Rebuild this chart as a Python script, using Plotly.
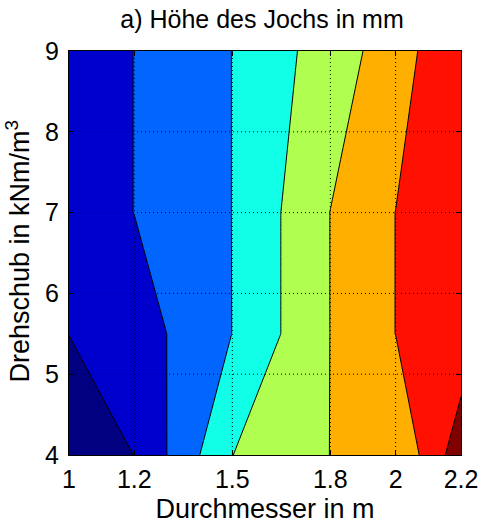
import plotly.graph_objects as go

# Data grid (Durchmesser in m, Drehschub in kNm/m^3)
durchmesser = [1.0, 1.2, 1.5, 1.8, 2.0, 2.2]
drehschub = [4.0, 5.5, 7.0, 9.0]

# Yoke height (in contour-level units), rows follow drehschub, columns follow durchmesser
hoehe_4_0 = [0.343, 1.01, 3.99, 5.01, 5.10, 7.60]
hoehe_5_5 = [1.01, 1.50, 3.01, 5.01, 6.01, 6.35]
hoehe_7_0 = [1.50, 2.01, 3.01, 5.01, 6.01, 6.50]
hoehe_9_0 = [1.50, 2.01, 3.01, 4.50, 5.50, 6.98]

levels_start, levels_end, levels_step = 1, 7, 1

band_colors = ["#000080", "#0000CD", "#0066FF", "#10FFE6",
               "#B0FF50", "#FFAF00", "#FF1000", "#800000"]

x_ticks = [1, 1.2, 1.5, 1.8, 2, 2.2]
x_ticktext = ["1", "1.2", "1.5", "1.8", "2", "2.2"]
y_ticks = [4, 5, 6, 7, 8, 9]

z = [hoehe_4_0, hoehe_5_5, hoehe_7_0, hoehe_9_0]
n = len(band_colors)
colorscale = [[i / (n - 1), c] for i, c in enumerate(band_colors)]

fig = go.Figure(go.Contour(
    x=durchmesser, y=drehschub, z=z,
    autocontour=False,
    contours=dict(start=levels_start, end=levels_end, size=levels_step,
                  coloring="fill", showlines=True),
    line=dict(color="black", width=1, smoothing=0),
    colorscale=colorscale, showscale=False, hoverinfo="skip",
))

shapes = []
for xv in x_ticks[1:-1]:
    shapes.append(dict(type="line", xref="x", yref="paper", x0=xv, x1=xv, y0=0, y1=1,
                       line=dict(color="black", width=1, dash="1px,3px"), layer="above"))
for yv in y_ticks[1:-1]:
    shapes.append(dict(type="line", xref="paper", yref="y", x0=0, x1=1, y0=yv, y1=yv,
                       line=dict(color="black", width=1, dash="1px,3px"), layer="above"))

font_family = "Liberation Sans, Arial, sans-serif"

W, H = 482, 531
L, R, T, B = 69, 21, 51, 76
plot_w = W - L - R

fig.update_layout(
    width=W, height=H,
    margin=dict(l=L, r=R, t=T, b=B, autoexpand=False),
    paper_bgcolor="white", plot_bgcolor="white",
    font=dict(family=font_family, color="black"),
    title=dict(text="a) Höhe des Jochs in mm", x=262 / W, xanchor="center",
               yref="container", y=1 - 10 / H, yanchor="top", pad=dict(t=0, b=0),
               font=dict(size=25), automargin=False),
    shapes=shapes,
    annotations=[dict(text="Drehschub in kNm/m<sup>3</sup>", textangle=-90,
                      xref="paper", yref="paper", x=(17.5 - L) / plot_w, y=0.505,
                      xanchor="center", yanchor="middle", showarrow=False,
                      font=dict(size=27))],
    xaxis=dict(range=[1, 2.2], tickvals=x_ticks, ticktext=x_ticktext,
               ticks="inside", ticklen=5, tickcolor="black",
               showline=True, linecolor="black", linewidth=1, mirror="ticks",
               showgrid=False, zeroline=False, layer="above traces", automargin=False,
               tickfont=dict(size=25), ticklabelstandoff=2,
               title=dict(text="Durchmesser in m", font=dict(size=27), standoff=7)),
    yaxis=dict(range=[4, 9], tickvals=y_ticks,
               ticks="inside", ticklen=5, tickcolor="black",
               showline=True, linecolor="black", linewidth=1, mirror="ticks",
               showgrid=False, zeroline=False, layer="above traces", automargin=False,
               tickfont=dict(size=25), ticklabelstandoff=4),
)

fig.write_html("out.html", config={"displayModeBar": False},
               post_script="document.body.style.margin='0';")
